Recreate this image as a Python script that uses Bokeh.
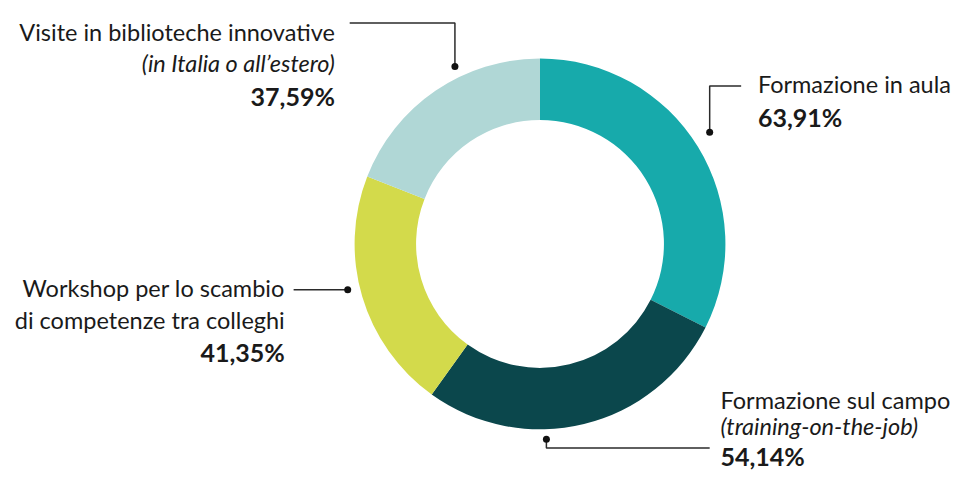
import numpy as np
from bokeh.plotting import figure
from bokeh.models import Range1d, ColumnDataSource
from bokeh.core.properties import value
from bokeh.embed import file_html
from bokeh.resources import INLINE

# ---- data ----
categories = ["Formazione in aula", "Formazione sul campo",
              "Workshop per lo scambio di competenze tra colleghi",
              "Visite in biblioteche innovative"]
values = [63.91, 54.14, 41.35, 37.59]
value_labels = ["63,91%", "54,14%", "41,35%", "37,59%"]
colors = ["#17AAAB", "#0B474C", "#D3DA4B", "#B0D7D6"]

W, H = 960, 472
S = W / 976.0
FONT = "Lato"
FS = "23.5px"
FSB = "25px"
TXT = "#1a1a1a"
LINE = "#2b2b2b"

def px(x):  # reference x -> data x
    return x * S

def py(y):  # reference y -> data y
    return H - y * S

p = figure(width=W, height=H, output_backend="svg", toolbar_location=None,
           x_range=Range1d(0, W), y_range=Range1d(0, H), min_border=0)
p.axis.visible = False
p.grid.visible = False
p.outline_line_color = None
p.background_fill_color = "white"

# ---- donut ----
vals = np.array(values, dtype=float)
frac = vals / vals.sum()
cum = np.concatenate([[0], np.cumsum(frac)])
start = np.pi / 2 - cum[:-1] * 2 * np.pi
end = np.pi / 2 - cum[1:] * 2 * np.pi
cx, cy = px(548.5), py(247.5)
src = ColumnDataSource(dict(start=start, end=end, color=colors, cat=categories))
p.annular_wedge(x=cx, y=cy, inner_radius=126 * S, outer_radius=188.5 * S,
                start_angle="start", end_angle="end", direction="clock",
                fill_color="color", line_color=None, source=src)

# ---- leader lines ----
leaders = [
    [(355, 23), (462, 23), (462, 67)],
    [(753, 87), (721, 87), (721, 134)],
    [(298, 294), (353, 294)],
    [(555, 446), (555, 455), (721, 455)],
]
dots = [(462, 67), (721, 134), (353, 294), (555, 446)]
for pts in leaders:
    p.line([px(a) for a, b in pts], [py(b) for a, b in pts], line_color=LINE, line_width=1.5)
p.scatter([px(a) for a, b in dots], [py(b) for a, b in dots], size=7,
          fill_color="#111111", line_color=None)

# ---- labels ----
def label(x, y, text, align, style="normal"):
    p.text(x=[px(x)], y=[py(y)], text=[text], text_align=align,
           text_baseline="alphabetic", text_font=value(FONT),
           text_font_size=FSB if style == "bold" else FS,
           text_font_style=style, text_color=TXT)

# Visite
label(340, 32, "Visite in biblioteche innovative", "right")
label(340, 64, "(in Italia o all\u2019estero)", "right", "italic")
label(340, 97, value_labels[3], "right", "bold")
# Formazione in aula
label(770, 85, "Formazione in aula", "left")
label(770, 118, value_labels[0], "left", "bold")
# Workshop
label(289, 292, "Workshop per lo scambio", "right")
label(289, 325, "di competenze tra colleghi", "right")
label(289, 357, value_labels[2], "right", "bold")
# Formazione sul campo
label(732, 406, "Formazione sul campo", "left")
label(732, 433, "(training-on-the-job)", "left", "italic")
label(732, 463, value_labels[1], "left", "bold")

open("out.html", "w").write(file_html(p, INLINE))
